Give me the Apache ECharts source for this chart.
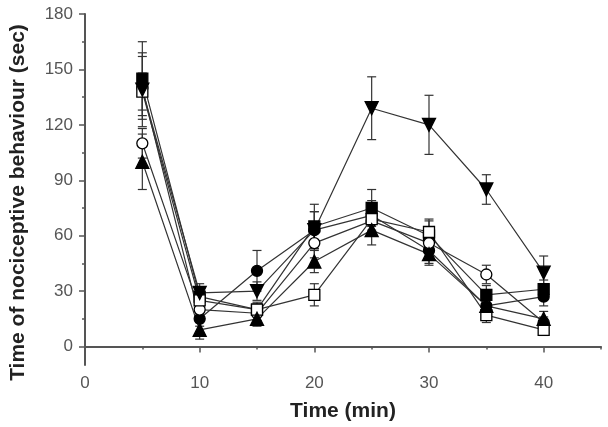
<!DOCTYPE html>
<html>
<head>
<meta charset="utf-8">
<script src="https://cdn.jsdelivr.net/npm/echarts@6/dist/echarts.min.js"></script>
<style>
  html, body { margin: 0; padding: 0; background: #fff; }
  #chart { width: 608px; height: 427px; }
</style>
</head>
<body>
<div id="chart"></div>
<script>
// time points (min)
var times = [5, 10, 15, 20, 25, 30, 35, 40];

// mean values (sec) per group
var filledSquare = [145, 27, 20, 65, 75, 60, 28, 31];
var filledCircle = [140, 15, 41, 63, 71, 52, 22, 27];
var openCircle   = [110, 20, 18, 56, 68, 56, 39, 13];
var openSquare   = [138, 25, 20, 28, 69, 62, 17, 9];
var triUp        = [100, 9, 15, 46, 63, 50, 22, 15];
var triDown      = [139, 29, 30, 63, 129, 120, 85, 40];

// error (sem) per group
var errFilledSquare = [20, 5, 4, 12, 10, 8, 5, 5];
var errFilledCircle = [17, 4, 11, 10, 8, 7, 4, 5];
var errOpenCircle   = [8, 5, 4, 8, 6, 7, 5, 3];
var errOpenSquare   = [10, 4, 3, 6, 7, 7, 4, 3];
var errTriUp        = [15, 5, 4, 6, 8, 6, 4, 4];
var errTriDown      = [20, 5, 5, 10, 17, 16, 8, 9];

var yMajor = [0, 30, 60, 90, 120, 150, 180];
var yMinor = [15, 45, 75, 105, 135, 165];
var xMajor = [0, 10, 20, 30, 40];
var xMinor = [5, 15, 25, 35, 45];

var groups = [
    {name: 'filledSquare', mean: filledSquare, err: errFilledSquare, symbol: 'rect', fill: '#000', rot: 0},
    {name: 'filledCircle', mean: filledCircle, err: errFilledCircle, symbol: 'circle', fill: '#000', rot: 0},
    {name: 'openCircle', mean: openCircle, err: errOpenCircle, symbol: 'circle', fill: '#fff', rot: 0},
    {name: 'openSquare', mean: openSquare, err: errOpenSquare, symbol: 'rect', fill: '#fff', rot: 0},
    {name: 'triUp', mean: triUp, err: errTriUp, symbol: 'triangle', fill: '#000', rot: 0},
    {name: 'triDown', mean: triDown, err: errTriDown, symbol: 'triangle', fill: '#000', rot: 180}
];

var axisColor = '#555';
var labelStyle = {color: '#555', fontSize: 17, fontFamily: 'Liberation Sans, Arial, sans-serif'};
var nameStyle = {color: '#222', fontSize: 21, fontWeight: 'bold', fontFamily: 'Liberation Sans, Arial, sans-serif'};

function errorBars(params, api) {
    var x = api.value(0);
    var lo = api.coord([x, api.value(1)]);
    var hi = api.coord([x, api.value(2)]);
    var cap = 4.5;
    var style = {stroke: '#333', lineWidth: 1.2};
    return {
        type: 'group',
        children: [
            {type: 'line', shape: {x1: lo[0], y1: lo[1], x2: hi[0], y2: hi[1]}, style: style},
            {type: 'line', shape: {x1: lo[0] - cap, y1: lo[1], x2: lo[0] + cap, y2: lo[1]}, style: style},
            {type: 'line', shape: {x1: hi[0] - cap, y1: hi[1], x2: hi[0] + cap, y2: hi[1]}, style: style}
        ]
    };
}

var series = [];
groups.forEach(function (g) {
    var errData = times.map(function (t, i) {
        return [t, g.mean[i] - g.err[i], g.mean[i] + g.err[i]];
    });
    series.push({
        type: 'custom',
        renderItem: errorBars,
        data: errData,
        z: 2,
        silent: true
    });
});
groups.forEach(function (g) {
    series.push({
        name: g.name,
        type: 'line',
        data: times.map(function (t, i) { return [t, g.mean[i]]; }),
        symbol: g.symbol,
        symbolSize: g.symbol === 'triangle' ? 13 : 11,
        symbolRotate: g.rot,
        showAllSymbol: true,
        lineStyle: {color: '#333', width: 1.2},
        itemStyle: {color: g.fill, borderColor: '#000', borderWidth: 1.3},
        z: 3,
        animation: false
    });
});

var chart = echarts.init(document.getElementById('chart'));
chart.setOption({
    animation: false,
    backgroundColor: '#fff',
    grid: {left: 83, right: 7, top: 14, bottom: 60},
    xAxis: [{
        type: 'value',
        min: 0,
        max: 45,
        name: 'Time (min)',
        nameLocation: 'middle',
        nameGap: 36,
        nameTextStyle: nameStyle,
        splitLine: {show: false},
        axisLine: {lineStyle: {color: axisColor, width: 2}},
        axisTick: {customValues: xMajor, length: 6, lineStyle: {color: axisColor, width: 1.5}},
        axisLabel: Object.assign({customValues: xMajor, margin: 10}, labelStyle)
    }, {
        type: 'value',
        min: 0,
        max: 45,
        position: 'bottom',
        splitLine: {show: false},
        axisLine: {show: false},
        axisTick: {customValues: xMinor, length: 3, lineStyle: {color: axisColor, width: 1.5}},
        axisLabel: {show: false}
    }],
    yAxis: [{
        type: 'value',
        min: -10,
        max: 180,
        name: 'Time of nociceptive behaviour (sec)',
        nameLocation: 'middle',
        nameGap: 56,
        nameTextStyle: Object.assign({padding: [0, 26, 0, 0]}, nameStyle),
        splitLine: {show: false},
        axisLine: {lineStyle: {color: axisColor, width: 2}},
        axisTick: {customValues: yMajor, length: 6, lineStyle: {color: axisColor, width: 1.5}},
        axisLabel: Object.assign({customValues: yMajor, margin: 12}, labelStyle)
    }, {
        type: 'value',
        min: -10,
        max: 180,
        position: 'left',
        splitLine: {show: false},
        axisLine: {show: false},
        axisTick: {customValues: yMinor, length: 3, lineStyle: {color: axisColor, width: 1.5}},
        axisLabel: {show: false}
    }],
    series: series
});
</script>
</body>
</html>
